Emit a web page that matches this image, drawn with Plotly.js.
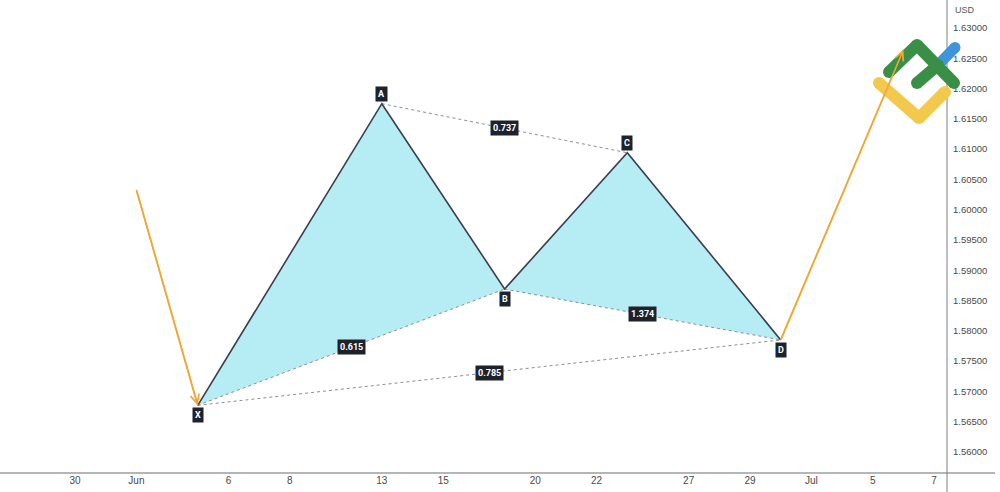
<!DOCTYPE html>
<html><head><meta charset="utf-8">
<script src="https://cdn.plot.ly/plotly-3.0.1.min.js"></script>
<style>html,body{margin:0;padding:0;background:#fff;}#chart{width:1000px;height:492px;}</style>
</head><body><div id="chart"></div>
<script>
// ---- data ----
const pointNames  = ['X', 'A', 'B', 'C', 'D'];
const pointDates  = ['2022-06-03', '2022-06-13', '2022-06-17', '2022-06-23', '2022-06-30'];
const pointPrices = [1.5677, 1.6175, 1.5869, 1.6094, 1.5785];
const leadInDates   = ['2022-06-01', '2022-06-03'];
const leadInPrices  = [1.6033, 1.5677];
const leadOutDates  = ['2022-06-30', '2022-07-06'];
const leadOutPrices = [1.5785, 1.6264];
const ratioFrom   = ['X', 'A', 'B', 'X'];
const ratioTo     = ['B', 'C', 'D', 'D'];
const ratioLabels = ['0.615', '0.737', '1.374', '0.785'];
const tickDates  = ['2022-05-30','2022-06-01','2022-06-06','2022-06-08','2022-06-13','2022-06-15','2022-06-20','2022-06-22','2022-06-27','2022-06-29','2022-07-01','2022-07-05','2022-07-07'];
const tickLabels = ['30','Jun','6','8','13','15','20','22','27','29','Jul','5','7'];
const currency = 'USD';

// ---- helpers (weekday-indexed time, weekends removed like the axis) ----
const BASE = Date.UTC(2022, 4, 2); // a Monday
function tIndex(s){ const days = Math.round((Date.parse(s + 'T00:00:00Z') - BASE) / 864e5); const w = Math.floor(days / 7); return w * 5 + Math.min(days % 7, 5); }
function fromIndex(i){ const w = Math.floor(i / 5); const r = i - w * 5; return new Date(BASE + (w * 7 + r) * 864e5).toISOString().slice(0, 19).replace('T', ' '); }
function pt(name){ const k = pointNames.indexOf(name); return {d: pointDates[k], p: pointPrices[k]}; }

const ORANGE = '#f2a735', EDGE = '#3a3e4a', FILL = 'rgba(178,235,242,0.95)', DOT = '#8a8d96', BOX = '#1e222d';

const traces = [];
// filled triangles XAB and BCD
[['X','A','B'], ['B','C','D']].forEach(tri => {
  traces.push({x: tri.map(n => pt(n).d).concat([pt(tri[0]).d]), y: tri.map(n => pt(n).p).concat([pt(tri[0]).p]),
    type: 'scatter', mode: 'lines', fill: 'toself', fillcolor: FILL, line: {width: 0}, hoverinfo: 'skip'});
});
// dotted connectors
for (let k = 0; k < ratioFrom.length; k++) {
  const a = pt(ratioFrom[k]), b = pt(ratioTo[k]);
  traces.push({x: [a.d, b.d], y: [a.p, b.p], type: 'scatter', mode: 'lines', line: {color: DOT, width: 1, dash: 'dot'}, hoverinfo: 'skip'});
}
// main zigzag
traces.push({x: pointDates, y: pointPrices, type: 'scatter', mode: 'lines', line: {color: EDGE, width: 1.6}, hoverinfo: 'skip'});
// orange legs
traces.push({x: leadInDates, y: leadInPrices, type: 'scatter', mode: 'lines', line: {color: ORANGE, width: 1.6}, hoverinfo: 'skip'});
traces.push({x: leadOutDates, y: leadOutPrices, type: 'scatter', mode: 'lines', line: {color: ORANGE, width: 1.6}, hoverinfo: 'skip'});

const annotations = [];
// arrow heads
annotations.push({x: leadInDates[1], y: leadInPrices[1], ax: leadInDates[0], ay: leadInPrices[0], xref: 'x', yref: 'y', axref: 'x', ayref: 'y', text: '', showarrow: true, arrowhead: 5, arrowsize: 1.1, arrowwidth: 1.6, arrowcolor: ORANGE, standoff: 0});
annotations.push({x: leadOutDates[1], y: leadOutPrices[1], ax: leadOutDates[0], ay: leadOutPrices[0], xref: 'x', yref: 'y', axref: 'x', ayref: 'y', text: '', showarrow: true, arrowhead: 5, arrowsize: 1.1, arrowwidth: 1.6, arrowcolor: ORANGE, standoff: 0});
// point labels
const above = {X: false, A: true, B: false, C: true, D: false};
pointNames.forEach((n, k) => {
  annotations.push({x: pointDates[k], y: pointPrices[k], xref: 'x', yref: 'y', text: '<b>' + n + '</b>', showarrow: false,
    font: {family: 'Roboto, Arial, sans-serif', size: 9, color: '#ffffff'}, bgcolor: BOX, borderpad: 2,
    yshift: above[n] ? 10 : -10});
});
// ratio labels at the midpoint of each connector
for (let k = 0; k < ratioFrom.length; k++) {
  const a = pt(ratioFrom[k]), b = pt(ratioTo[k]);
  annotations.push({x: fromIndex((tIndex(a.d) + tIndex(b.d)) / 2), y: (a.p + b.p) / 2, xref: 'x', yref: 'y',
    text: '<b>' + ratioLabels[k] + '</b>', showarrow: false,
    font: {family: 'Roboto, Arial, sans-serif', size: 9, color: '#ffffff'}, bgcolor: BOX, borderpad: 2});
}
annotations.push({xref: 'paper', yref: 'paper', x: 1, y: 1, xanchor: 'left', yanchor: 'top', xshift: 6, yshift: -3,
  text: currency, showarrow: false, font: {family: 'Liberation Sans, Arial', size: 9, color: '#555'}});

// ---- decorative logo and frame lines (paper coords from plot area 947x473) ----
const PW = 947, PH = 473;
const X = px => px / PW, Y = py => 1 - py / PH;
function seg(x0, y0, x1, y1, color, w){ return {type: 'line', xref: 'paper', yref: 'paper', x0: X(x0), y0: Y(y0), x1: X(x1), y1: Y(y1), line: {color: color, width: w}, layer: 'above'}; }
function dot(cx, cy, r, color){ return {type: 'circle', xref: 'paper', yref: 'paper', x0: X(cx - r), x1: X(cx + r), y0: Y(cy + r), y1: Y(cy - r), fillcolor: color, line: {width: 0}, layer: 'above'}; }
function stroke(pts, color, w){
  const out = [];
  for (let i = 0; i + 1 < pts.length; i++) out.push(seg(pts[i][0], pts[i][1], pts[i+1][0], pts[i+1][1], color, w));
  pts.forEach(p => out.push(dot(p[0], p[1], w / 2, color)));
  return out;
}
const YEL = '#f2c94c', BLU = '#3d95dc', GRN = '#3a8f46';
const shapes = [
  seg(0, 473, 995, 473, '#b4b6bc', 2),
  seg(947, 0, 947, 492, '#7d8088', 1)
].concat(
  stroke([[879, 83], [919, 118], [945, 92]], YEL, 12),
  stroke([[940, 63], [955, 47.5]], BLU, 11),
  stroke([[917, 83], [938, 65]], GRN, 12),
  stroke([[889, 72], [917, 45], [954, 83]], GRN, 12)
);

const layout = {
  width: 1000, height: 492, paper_bgcolor: '#ffffff', plot_bgcolor: '#ffffff', showlegend: false,
  margin: {l: 0, r: 53, t: 0, b: 19},
  xaxis: {type: 'date', range: ['2022-05-25 13:19', '2022-07-07 10:05'], rangebreaks: [{bounds: ['sat', 'mon']}],
    tickmode: 'array', tickvals: tickDates, ticktext: tickLabels, showgrid: false, zeroline: false, showline: false, ticks: '',
    tickfont: {family: 'Liberation Sans, Arial', size: 10, color: '#4a4a4a'}, fixedrange: true},
  yaxis: {side: 'right', range: [1.55653, 1.63462], tick0: 1.56, dtick: 0.005, tickformat: '.5f', showgrid: false, zeroline: false,
    showline: false, ticks: '', ticklabelstandoff: 5, tickfont: {family: 'Liberation Sans, Arial', size: 9.5, color: '#4a4a4a'}, fixedrange: true},
  annotations: annotations, shapes: shapes
};
Plotly.newPlot('chart', traces, layout, {displayModeBar: false, staticPlot: true});
</script></body></html>
